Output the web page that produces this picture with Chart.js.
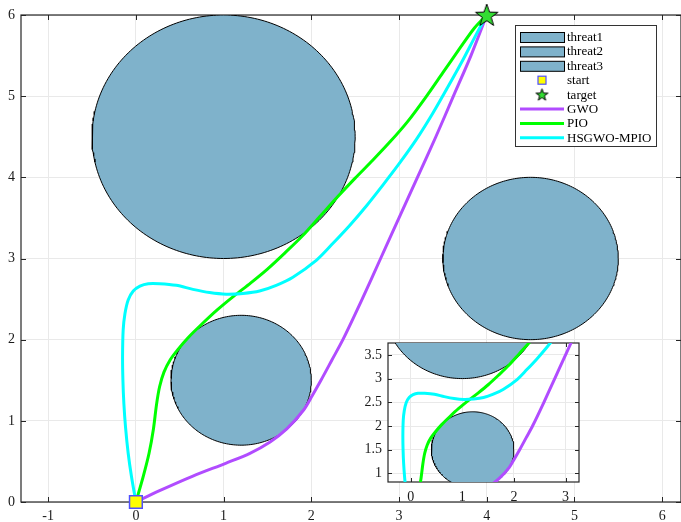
<!DOCTYPE html>
<html>
<head>
<meta charset="utf-8">
<script src="https://cdn.jsdelivr.net/npm/chart.js@4.4.0/dist/chart.umd.min.js"></script>
<style>
  html, body { margin: 0; padding: 0; background: #ffffff; }
  #wrap { position: relative; width: 681px; height: 522px; overflow: hidden; }
  #main { position: absolute; left: 0; top: 0; }
  #inset { position: absolute; left: 350px; top: 333px; }
</style>
</head>
<body>
<div id="wrap">
  <canvas id="main" width="681" height="522"></canvas>
  <canvas id="inset" width="235" height="175"></canvas>
</div>
<script>
// ---- threats (circular no-fly zones) ----
const threatNames = ['threat1', 'threat2', 'threat3'];
const threatCx = [1.0, 1.2, 4.5];
const threatCy = [4.5, 1.5, 3.0];
const threatR  = [1.5, 0.8, 1.0];

// ---- start / target ----
const startPoint  = { x: 0, y: 0 };
const targetPoint = { x: 4, y: 6 };

// ---- planned paths ----
const gwoX = [0, 0.27, 0.65, 1.03, 1.30, 1.53, 1.72, 1.91, 2.01, 2.11, 2.235, 2.36, 2.58, 2.79, 3.00, 3.21, 3.42, 3.62, 3.82, 4.00];
const gwoY = [0, 0.14, 0.32, 0.48, 0.60, 0.74, 0.90, 1.13, 1.31, 1.50, 1.75, 2.00, 2.50, 3.00, 3.50, 4.00, 4.50, 5.00, 5.50, 6.00];

const pioX = [0, 0.08, 0.15, 0.20, 0.235, 0.27, 0.32, 0.39, 0.48, 0.60, 0.75, 0.93, 1.12, 1.31, 1.50, 1.70, 1.90, 2.10, 2.30, 2.50, 2.70, 2.90, 3.10, 3.30, 3.50, 3.70, 3.86, 4.00];
const pioY = [0, 0.30, 0.60, 0.90, 1.20, 1.42, 1.60, 1.75, 1.88, 2.03, 2.19, 2.37, 2.54, 2.70, 2.87, 3.07, 3.28, 3.52, 3.76, 3.99, 4.21, 4.44, 4.69, 4.98, 5.29, 5.60, 5.84, 6.00];

const hsX = [0, -0.05, -0.088, -0.118, -0.137, -0.148, -0.152, -0.145, -0.125, -0.088, -0.03, 0.046, 0.14, 0.27, 0.46, 0.65, 0.84, 1.03, 1.22, 1.41, 1.60, 1.79, 2.06, 2.25, 2.44, 2.63, 2.82, 3.01, 3.20, 3.38, 3.55, 3.72, 3.87, 4.00];
const hsY = [0, 0.31, 0.60, 0.92, 1.21, 1.50, 1.79, 2.12, 2.32, 2.49, 2.60, 2.66, 2.69, 2.69, 2.67, 2.62, 2.58, 2.56, 2.57, 2.60, 2.67, 2.77, 2.98, 3.19, 3.41, 3.65, 3.91, 4.18, 4.47, 4.78, 5.10, 5.43, 5.74, 6.00];

const pathNames  = ['GWO', 'PIO', 'HSGWO-MPIO'];
const pathColors = ['#b14cff', '#00ff00', '#00ffff'];

// ---- axes ----
const mainXRange = [-1.31, 6.215];
const mainYRange = [0, 6];
const mainXTicks = [-1, 0, 1, 2, 3, 4, 5, 6];
const mainYTicks = [0, 1, 2, 3, 4, 5, 6];

const insetXRange = [-0.44, 3.26];
const insetYRange = [0.82, 3.75];
const insetXTicks = [0, 1, 2, 3];
const insetYTicks = [1, 1.5, 2, 2.5, 3, 3.5];

const threatFill = '#7fb2cb';
const FONT = 'Liberation Serif, Times New Roman, serif';

function zip(xs, ys) { return xs.map((x, i) => ({ x, y: ys[i] })); }

function circlePoints(cx, cy, r) {
  const pts = [];
  const n = 240;
  for (let i = 0; i <= n; i++) {
    const a = (i / n) * Math.PI * 2;
    pts.push({ x: cx + r * Math.cos(a), y: cy + r * Math.sin(a) });
  }
  return pts;
}

function starImage(size, fill, stroke) {
  const c = document.createElement('canvas');
  c.width = size; c.height = size;
  const g = c.getContext('2d');
  const r = size / 2 - 1.2, ri = r * 0.40;
  const cx = size / 2, cy = size / 2 + r * 0.08;
  g.beginPath();
  for (let i = 0; i < 10; i++) {
    const a = -Math.PI / 2 + i * Math.PI / 5;
    const rr = (i % 2) ? ri : r;
    g.lineTo(cx + rr * Math.cos(a), cy + rr * Math.sin(a));
  }
  g.closePath();
  g.fillStyle = fill; g.fill();
  g.lineWidth = 1; g.strokeStyle = stroke; g.stroke();
  return c;
}

const starBig = starImage(26, '#33dd33', '#000000');
const starSmall = starImage(15, '#33dd33', '#000000');

function buildDatasets() {
  const ds = [];
  threatNames.forEach((name, i) => {
    ds.push({
      label: name,
      data: circlePoints(threatCx[i], threatCy[i], threatR[i]),
      showLine: true, fill: 'shape', tension: 0,
      backgroundColor: threatFill, borderColor: '#000000', borderWidth: 1,
      pointRadius: 0, order: 10 + i, kind: 'patch'
    });
  });
  ds.push({
    label: 'start', data: [startPoint], pointStyle: 'rect', pointRadius: 9,
    backgroundColor: '#ffff00', borderColor: '#4f4fff', borderWidth: 1.5,
    clip: false, order: 1, kind: 'start'
  });
  ds.push({
    label: 'target', data: [targetPoint], pointStyle: starBig, pointRadius: 12,
    clip: false, order: 0, kind: 'target'
  });
  const paths = [[gwoX, gwoY], [pioX, pioY], [hsX, hsY]];
  paths.forEach((p, i) => {
    ds.push({
      label: pathNames[i], data: zip(p[0], p[1]),
      showLine: true, fill: false, tension: 0.3,
      borderColor: pathColors[i], backgroundColor: pathColors[i], borderWidth: 3,
      borderJoinStyle: 'round', borderCapStyle: 'round',
      pointRadius: 0, order: 6 - i, kind: 'line'
    });
  });
  return ds;
}

// inward ticks and box outline, drawn in the MATLAB style
const boxPlugin = {
  id: 'boxTicks',
  beforeDraw(chart, args, opts) {
    if (!opts.white) return;
    const { ctx, chartArea: a } = chart;
    ctx.save();
    ctx.fillStyle = '#ffffff';
    ctx.fillRect(a.left, a.top, a.right - a.left, a.bottom - a.top);
    ctx.restore();
  },
  beforeDatasetsDraw(chart, args, opts) {
    const { ctx, chartArea: a, scales: { x, y } } = chart;
    ctx.save();
    ctx.strokeStyle = opts.color;
    ctx.lineWidth = opts.width;
    const tl = opts.tickLen;
    ctx.beginPath();
    x.ticks.forEach(t => {
      const px = Math.round(x.getPixelForValue(t.value)) + 0.5;
      ctx.moveTo(px, a.bottom); ctx.lineTo(px, a.bottom - tl);
      ctx.moveTo(px, a.top); ctx.lineTo(px, a.top + tl);
    });
    y.ticks.forEach(t => {
      const py = Math.round(y.getPixelForValue(t.value)) + 0.5;
      ctx.moveTo(a.left, py); ctx.lineTo(a.left + tl, py);
      ctx.moveTo(a.right, py); ctx.lineTo(a.right - tl, py);
    });
    ctx.stroke();
    ctx.lineWidth = opts.boxWidth;
    ctx.strokeRect(Math.round(a.left), Math.round(a.top),
                   Math.round(a.right - a.left), Math.round(a.bottom - a.top));
    ctx.restore();
  }
};

// legend box in the upper right of the plot area
const legendPlugin = {
  id: 'boxLegend',
  afterDraw(chart, args, opts) {
    if (!opts.show) return;
    const ctx = chart.ctx;
    const L = 515.5, T = 25.5, W = 141, H = 121;
    ctx.save();
    ctx.fillStyle = '#ffffff';
    ctx.fillRect(L, T, W, H);
    ctx.strokeStyle = '#333333'; ctx.lineWidth = 1;
    ctx.strokeRect(L, T, W, H);
    const order = ['threat1', 'threat2', 'threat3', 'start', 'target', 'GWO', 'PIO', 'HSGWO-MPIO'];
    const rowY0 = 37, rowStep = 14.4;
    const sx0 = 520, sx1 = 564, mx = 542, tx = 567;
    ctx.font = '13px ' + FONT;
    ctx.textBaseline = 'middle';
    order.forEach((lab, i) => {
      const ds = chart.data.datasets.find(d => d.label === lab);
      const cy = rowY0 + i * rowStep;
      if (ds.kind === 'patch') {
        ctx.fillStyle = ds.backgroundColor;
        ctx.fillRect(sx0 + 0.5, cy - 5 + 0.5, sx1 - sx0, 10);
        ctx.strokeStyle = '#000000'; ctx.lineWidth = 1;
        ctx.strokeRect(sx0 + 0.5, cy - 5 + 0.5, sx1 - sx0, 10);
      } else if (ds.kind === 'line') {
        ctx.strokeStyle = ds.borderColor; ctx.lineWidth = 3;
        ctx.beginPath(); ctx.moveTo(sx0, cy); ctx.lineTo(sx1, cy); ctx.stroke();
      } else if (ds.kind === 'start') {
        ctx.fillStyle = ds.backgroundColor;
        ctx.fillRect(mx - 4, cy - 4, 8, 8);
        ctx.strokeStyle = ds.borderColor; ctx.lineWidth = 1.2;
        ctx.strokeRect(mx - 4, cy - 4, 8, 8);
      } else if (ds.kind === 'target') {
        ctx.drawImage(starSmall, mx - starSmall.width / 2, cy - starSmall.height / 2);
      }
      ctx.fillStyle = '#000000';
      ctx.fillText(lab, tx, cy + 0.5);
    });
    ctx.restore();
  }
};

function makeChart(canvas, cfg) {
  const tickFont = { family: FONT, size: cfg.fontSize };
  return new Chart(canvas, {
    type: 'scatter',
    data: { datasets: buildDatasets() },
    options: {
      responsive: false,
      animation: false,
      events: [],
      layout: { padding: cfg.padding, autoPadding: false },
      plugins: {
        legend: { display: false },
        tooltip: { enabled: false },
        boxTicks: { color: '#262626', width: 1, boxWidth: 1.2, tickLen: cfg.tickLen, white: cfg.white },
        boxLegend: { show: cfg.legend }
      },
      scales: {
        x: {
          type: 'linear', min: cfg.xRange[0], max: cfg.xRange[1],
          afterBuildTicks: s => { s.ticks = cfg.xTicks.map(v => ({ value: v })); },
          afterFit: s => { s.height = cfg.xHeight; s.paddingLeft = 0; s.paddingRight = 0; },
          ticks: { font: tickFont, color: '#1a1a1a', padding: cfg.xPad, maxRotation: 0, autoSkip: false,
                   callback: v => String(v) },
          grid: { color: '#e9e9e9', lineWidth: 1, drawTicks: false },
          border: { display: false }
        },
        y: {
          type: 'linear', min: cfg.yRange[0], max: cfg.yRange[1],
          afterBuildTicks: s => { s.ticks = cfg.yTicks.map(v => ({ value: v })); },
          afterFit: s => { s.width = cfg.yWidth; s.paddingTop = 0; s.paddingBottom = 0; },
          ticks: { font: tickFont, color: '#1a1a1a', padding: cfg.yPad, autoSkip: false,
                   callback: v => String(v) },
          grid: { color: '#e9e9e9', lineWidth: 1, drawTicks: false },
          border: { display: false }
        }
      }
    },
    plugins: [boxPlugin, legendPlugin]
  });
}

makeChart(document.getElementById('main'), {
  xRange: mainXRange, yRange: mainYRange, xTicks: mainXTicks, yTicks: mainYTicks,
  padding: { left: 0, top: 15, right: 0, bottom: 0 },
  xHeight: 20, yWidth: 21, xPad: 6, yPad: 6, fontSize: 14, tickLen: 5,
  white: false, legend: true
});

makeChart(document.getElementById('inset'), {
  xRange: insetXRange, yRange: insetYRange, xTicks: insetXTicks, yTicks: insetYTicks,
  padding: { left: 0, top: 10, right: 6, bottom: 0 },
  xHeight: 26, yWidth: 38, xPad: 7, yPad: 6, fontSize: 14, tickLen: 4,
  white: true, legend: false
});
</script>
</body>
</html>
